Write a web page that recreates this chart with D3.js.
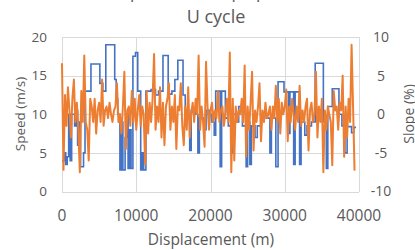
<!DOCTYPE html>
<html lang="en">
<head>
<meta charset="utf-8">
<title>U cycle</title>
<script src="https://d3js.org/d3.v7.min.js"></script>
<style>
body{
  margin: 0;
  background: #fff;
}
text{
  font-family: "Open Sans", sans-serif;
  fill: #595959;
}
.grid line{
  stroke: #d9d9d9;
  stroke-width: 1;
  shape-rendering: crispEdges;
}
</style>
</head>
<body>
<svg id="chart" width="415" height="250"></svg>
<script>
// speed profile, step after each breakpoint (m, m/s)
var speedDist = [0, 300, 500, 700, 900, 1100, 1300, 1700, 1900, 2100, 2300, 2500, 2900, 3100, 3900,
  5100, 5500, 5900, 7100, 7300, 7500, 7800, 8000, 8200, 8500, 8700, 8900, 9100, 9300, 9550, 9900,
  10200, 10600, 10800, 11000, 11300, 12000, 12600, 13000, 13600, 14300, 14800, 15200, 15600, 16300,
  16600, 17000, 17200, 17400, 18000, 18300, 18500, 19100, 19400, 19800, 20200, 20500, 20700, 21300,
  21500, 22000, 22400, 22800, 23000, 23500, 23800, 24300, 24800, 25000, 25300, 25500, 26000, 26300,
  26800, 27500, 28000, 28200, 28800, 29100, 29900, 30500, 30700, 31200, 31400, 32000, 32200, 32700,
  33000, 33600, 34100, 35200, 35600, 35800, 36400, 37300, 37700, 38100, 38400, 39000, 39300, 39600];
var speed = [4, 5, 3.5, 4.5, 10, 4, 10, 8.5, 10.5, 6, 9, 3.2, 5, 13, 16.5,
  14, 13, 19, 14.5, 12, 10, 2.8, 9, 2.8, 7, 10, 3, 8, 3, 17.5, 18,
  13, 2.8, 5, 2.8, 13, 13.2, 12.5, 13, 17.6, 12.6, 13, 14.5, 17, 12.5,
  10, 9.5, 5.3, 10.5, 10, 5, 9.5, 8, 10.5, 10, 9, 7.3, 13, 3.2,
  13, 9.5, 8.5, 5, 10, 9, 11, 8.5, 3.2, 9, 3.5, 8.5, 7, 8.5,
  10, 9.5, 5, 9.5, 3.2, 14.2, 12.9, 7.5, 12.9, 3.5, 12.9, 3.5, 9, 7.3,
  8.5, 9, 16.6, 9, 3, 11, 13.3, 10, 8.5, 5, 8.4, 7.6, 8.3, 8.3];

// slope samples every 200 m (%)
var slopeStep = 200;
var slope = [
  6.6, -7.2, 2.5, -1.5, 3.5,   0.5, -3, 2, 4.5, -1,   1.5, -2, -7.5, 3, -1,   7.6, -1, -2, -6, 2,
  1, -1, 2, -2.5, 0.5,   1.5, -1, 4.5, -1.5, 0.5,   1, -0.5, 1.5, 0, -1,   0.5, 1, 4, -1, 0,
  -2.5, 1, 5.5, -4.5, 0.5,   1, -1.5, 3, -1, 2,   -2, 0.5, 2.5, -1.5, 1,   0, -6.5, 3, -2.5, 1.5,
  -1, 2, 7.8, -2, 1,   -1, 3.5, -3, 1.5, -4,   1, 2, 4, -2, 1,   -1, 2.5, -4.5, 1, 0.5,
  4, -1.5, -4, 1, -2,   3.5, -3, 0, 1.5, -1,   2, 0, 7.6, -2, 1,   -1, -4.2, 6.8, 1, -2,
  0.5, 1.5, -1, 0.5, -0.5,   3, -1, 0.5, 1, -1.5,   0, 2, -1, 8, -7.5,   2, -6, 1, -1, 0.5,
  0, 2, -1, 6.3, -5.5,   1, -2, 1.5, 5.5, -4.7,   0.5, -1, 1, 4, -3.5,   0.5, -1, 1.5, -0.5, 0,
  1, -2, 1, -0.5, 3.7,   -1, 2, -2.5, 1.5, 0,   1, 3.2, -3.5, 1, -1,   2, 0, -2, 1, -1,
  3.7, -1.5, 0.5, -1, 1,   2, -4.7, 0.5, 1.5, -1,   0, 5.5, -3, 1, -1,   2, -7.5, 0.5, -2, 1,
  0, -1, -6.6, 3, 0.5,   1, -2, 1.5, 0.5, 5,   -5.5, 1, -3, 2, -1,   9, 1, -7.3];

var xTicks = [0, 10000, 20000, 30000, 40000];
var speedTicks = [0, 5, 10, 15, 20];
var slopeTicks = [-10, -5, 0, 5, 10];

var svg = d3.select('#chart');
var plotL = 62, plotR = 359, plotT = 37, plotB = 191.5;

var x = d3.scaleLinear().domain([0, 40000]).range([plotL, plotR]);
var yL = d3.scaleLinear().domain([0, 20]).range([plotB, plotT]);
var yR = d3.scaleLinear().domain([-10, 10]).range([plotB, plotT]);

// grid
var grid = svg.append('g').attr('class', 'grid');
grid.selectAll('.h').data(speedTicks).enter().append('line')
  .attr('x1', plotL).attr('x2', plotR)
  .attr('y1', function(d) { return Math.round(yL(d)) + 0.5; })
  .attr('y2', function(d) { return Math.round(yL(d)) + 0.5; });
grid.selectAll('.v').data(xTicks).enter().append('line')
  .attr('y1', plotT).attr('y2', plotB)
  .attr('x1', function(d) { return Math.round(x(d)) + 0.5; })
  .attr('x2', function(d) { return Math.round(x(d)) + 0.5; });

// series
var speedPts = speedDist.map(function(d, i) { return [d, speed[i]]; });
svg.append('path')
  .datum(speedPts)
  .attr('fill', 'none')
  .attr('stroke', '#4472c4')
  .attr('stroke-width', 1.6)
  .attr('d', d3.line()
    .curve(d3.curveStepAfter)
    .x(function(d) { return x(d[0]); })
    .y(function(d) { return yL(d[1]); }));

svg.append('path')
  .datum(slope)
  .attr('fill', 'none')
  .attr('stroke', '#ed7d31')
  .attr('stroke-width', 2)
  .attr('stroke-linejoin', 'round')
  .attr('d', d3.line()
    .x(function(d, i) { return x(i * slopeStep); })
    .y(function(d) { return yR(d); }));

// axes labels
svg.append('g').selectAll('text').data(xTicks).enter().append('text')
  .attr('x', function(d) { return x(d); })
  .attr('y', 221)
  .attr('text-anchor', 'middle')
  .attr('font-size', 15.5)
  .text(function(d) { return d; });

svg.append('g').selectAll('text').data(speedTicks).enter().append('text')
  .attr('x', 47)
  .attr('y', function(d) { return yL(d); })
  .attr('dy', '0.35em')
  .attr('text-anchor', 'end')
  .attr('font-size', 13.5)
  .text(function(d) { return d; });

svg.append('g').selectAll('text').data(slopeTicks).enter().append('text')
  .attr('x', 381)
  .attr('y', function(d) { return yR(d); })
  .attr('dy', '0.35em')
  .attr('text-anchor', 'middle')
  .attr('font-size', 14)
  .text(function(d) { return d; });

// titles (first line is cropped off at the top in the reference)
svg.append('text')
  .attr('x', 214).attr('y', -2)
  .attr('text-anchor', 'middle')
  .attr('font-size', 17)
  .attr('fill', '#8c8c8c')
  .text('Speed and slope profile');

svg.append('text')
  .attr('x', 216).attr('y', 22.5)
  .attr('text-anchor', 'middle')
  .attr('font-size', 18)
  .text('U cycle');

svg.append('text')
  .attr('x', 211).attr('y', 245)
  .attr('text-anchor', 'middle')
  .attr('font-size', 15.5)
  .text('Displacement (m)');

svg.append('text')
  .attr('transform', 'translate(25,114) rotate(-90)')
  .attr('text-anchor', 'middle')
  .attr('font-size', 13.5)
  .text('Speed (m/s)');

svg.append('text')
  .attr('transform', 'translate(414,114) rotate(-90)')
  .attr('text-anchor', 'middle')
  .attr('font-size', 14)
  .text('Slope (%)');
</script>
</body>
</html>
